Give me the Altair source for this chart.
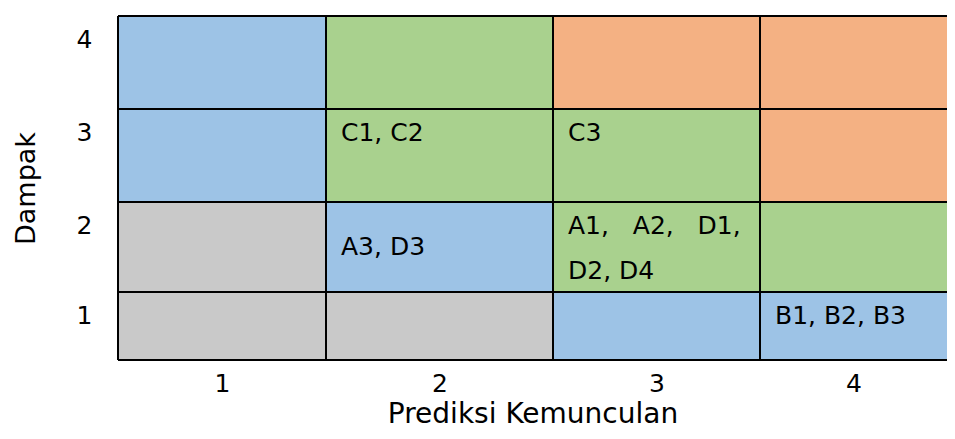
import altair as alt
import pandas as pd

# ---------------- data ----------------
likelihood_levels = [1, 2, 3, 4]          # Prediksi Kemunculan (columns)
impact_levels = [1, 2, 3, 4]              # Dampak (rows)

# zone of each cell, per Dampak row, listed by Prediksi 1..4
zone_dampak_4 = ["biru", "hijau", "oranye", "oranye"]
zone_dampak_3 = ["biru", "hijau", "hijau", "oranye"]
zone_dampak_2 = ["abu", "biru", "hijau", "hijau"]
zone_dampak_1 = ["abu", "abu", "biru", "biru"]

# risk codes written in cells
label_prediksi = [2, 3, 2, 3, 4]
label_dampak = [3, 3, 2, 2, 1]
label_text = ["C1, C2", "C3", "A3, D3",
              "A1,\u00a0\u00a0\u00a0A2,\u00a0\u00a0\u00a0D1,\nD2, D4", "B1, B2, B3"]

# ---------------- style / layout ----------------
zone_names = ["abu", "biru", "hijau", "oranye"]
zone_colors = ["#C9C9C9", "#9DC3E6", "#A9D18E", "#F4B183"]
label_valign = ["top", "top", "middle", "top", "top"]
col_widths = [208, 227, 207, 187]      # Prediksi 1..4 (last one cut by the edge)
row_heights = [68, 90, 93, 93]         # Dampak 1..4
FONT = "DejaVu Sans"

W = sum(col_widths)
H = sum(row_heights)
edges = [0.5, 1.5, 2.5, 3.5, 4.5]
x_range = [0]
for w in col_widths:
    x_range.append(x_range[-1] + w)
y_range = [H]
for h in row_heights:
    y_range.append(y_range[-1] - h)

x_scale = alt.Scale(domain=edges, range=x_range, nice=False, zero=False)
y_scale = alt.Scale(domain=edges, range=y_range, nice=False, zero=False)

x_axis = alt.Axis(values=likelihood_levels, format="d", ticks=False, domain=False,
                  grid=False, labelAngle=0, labelFontSize=25, labelColor="black",
                  labelPadding=11, labelFlush=False, labelOverlap=False,
                  titleFontSize=28, titleFontWeight="normal", titleColor="black",
                  titlePadding=4)
y_axis = alt.Axis(values=[v + 0.5 for v in impact_levels],
                  labelExpr="format(datum.value - 0.5, 'd')",
                  ticks=False, domain=False, grid=False, labelFontSize=25,
                  labelColor="black", labelPadding=26, labelOffset=23,
                  labelFlush=False, labelOverlap=False,
                  titleFontSize=27, titleFontWeight="normal", titleColor="black",
                  titlePadding=36)

zones = {4: zone_dampak_4, 3: zone_dampak_3, 2: zone_dampak_2, 1: zone_dampak_1}
cells = pd.DataFrame([
    {"p0": p - 0.5, "p1": p + 0.5, "d0": d - 0.5, "d1": d + 0.5,
     "zone": zones[d][i]}
    for d in impact_levels for i, p in enumerate(likelihood_levels)
])

XT = "Prediksi Kemunculan"
YT = "Dampak"

rect = alt.Chart(cells).mark_rect().encode(
    x=alt.X("p0:Q", scale=x_scale, axis=x_axis, title=XT),
    x2="p1",
    y=alt.Y("d0:Q", scale=y_scale, axis=y_axis, title=YT),
    y2="d1",
    color=alt.Color("zone:N", scale=alt.Scale(domain=zone_names, range=zone_colors),
                    legend=None),
)

vlines = pd.DataFrame({"x": edges[:-1], "y0": edges[0], "y1": edges[-1]})
hlines = pd.DataFrame({"y": edges, "x0": edges[0], "x1": edges[-1]})

vrule = alt.Chart(vlines).mark_rule(color="black", strokeWidth=2).encode(
    x=alt.X("x:Q", scale=x_scale, axis=x_axis, title=XT),
    y=alt.Y("y0:Q", scale=y_scale, axis=y_axis, title=YT),
    y2="y1",
)
hrule = alt.Chart(hlines).mark_rule(color="black", strokeWidth=2).encode(
    y=alt.Y("y:Q", scale=y_scale, axis=y_axis, title=YT),
    x=alt.X("x0:Q", scale=x_scale, axis=x_axis, title=XT),
    x2="x1",
)

labels = pd.DataFrame({
    "left": [p - 0.5 for p in label_prediksi],
    "top": [d + 0.5 for d in label_dampak],
    "mid": label_dampak,
    "text": label_text,
    "valign": label_valign,
})

text_top = alt.Chart(labels).transform_filter("datum.valign == 'top'").mark_text(
    align="left", baseline="top", dx=15, dy=12, fontSize=25, font=FONT,
    color="black", lineBreak="\n", lineHeight=45,
).encode(
    x=alt.X("left:Q", scale=x_scale, axis=x_axis, title=XT),
    y=alt.Y("top:Q", scale=y_scale, axis=y_axis, title=YT),
    text="text:N",
)
text_mid = alt.Chart(labels).transform_filter("datum.valign == 'middle'").mark_text(
    align="left", baseline="middle", dx=15, dy=0, fontSize=25, font=FONT,
    color="black",
).encode(
    x=alt.X("left:Q", scale=x_scale, axis=x_axis, title=XT),
    y=alt.Y("mid:Q", scale=y_scale, axis=y_axis, title=YT),
    text="text:N",
)

chart = alt.layer(rect, hrule, vrule, text_top, text_mid).properties(
    width=W, height=H, autosize="none",
    padding={"left": 110, "top": 8, "right": 0, "bottom": 70},
).configure(font=FONT).configure_view(stroke=None)

chart.save("out.html", embed_options={"renderer": "svg", "actions": False})
